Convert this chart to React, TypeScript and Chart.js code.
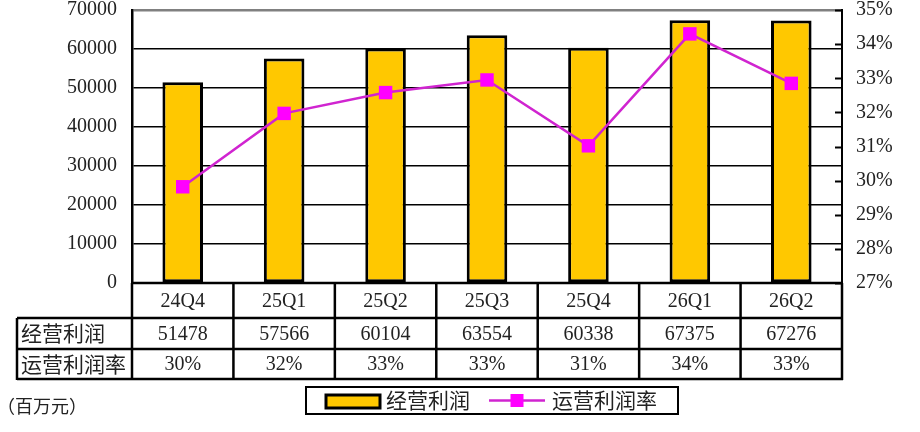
import React, { useEffect, useRef } from "react";
import { Chart, registerables } from "chart.js";

Chart.register(...registerables);

const categories = ["24Q4", "25Q1", "25Q2", "25Q3", "25Q4", "26Q1", "26Q2"];
const operatingProfit = [51478, 57566, 60104, 63554, 60338, 67375, 67276];
const operatingMargin = [29.82, 31.97, 32.58, 32.95, 31.02, 34.3, 32.85];
const profitLabel = "经营利润";
const marginLabel = "运营利润率";
const unitLabel = "（百万元）";

const BAR_COLOR = "#FFC800";
const LINE_COLOR = "#D024D0";
const MARKER_COLOR = "#FF00FF";
const TEXT_COLOR = "#222222";
const NUM_FONT = '"Liberation Serif", "Times New Roman", serif';
const CJK_FONT = '"Noto Sans CJK SC", sans-serif';

const tablePlugin = {
  id: "tablePlugin",
  afterDraw(chart: any) {
    const ctx = chart.ctx as CanvasRenderingContext2D;
    const area = chart.chartArea;
    const xs = chart.scales.x;
    const y1s = chart.scales.y1;
    const n = categories.length;
    const colW = (area.right - area.left) / n;
    const headerLeft = 17;
    const r0 = area.bottom;
    const r1 = r0 + 35;
    const r2 = r1 + 31;
    const r3 = r2 + 30;

    ctx.save();
    // inward ticks on right axis
    ctx.strokeStyle = "#000";
    ctx.lineWidth = 2;
    y1s.ticks.forEach((t: any) => {
      const py = Math.round(y1s.getPixelForValue(t.value)) + 0.5;
      ctx.beginPath();
      ctx.moveTo(area.right - 7, py);
      ctx.lineTo(area.right, py);
      ctx.stroke();
    });

    // table lines
    ctx.lineWidth = 2.5;
    ctx.strokeStyle = "#000";
    ctx.beginPath();
    ctx.moveTo(area.left - 1, r0);
    ctx.lineTo(area.right + 1, r0);
    [r1, r2, r3].forEach((yy) => {
      ctx.moveTo(headerLeft, yy);
      ctx.lineTo(area.right + 1, yy);
    });
    ctx.moveTo(headerLeft, r1);
    ctx.lineTo(headerLeft, r3 + 1);
    ctx.moveTo(area.left, r0);
    ctx.lineTo(area.left, r3 + 1);
    for (let i = 0; i < n; i++) {
      const xr = xs.getPixelForValue(i) + colW / 2;
      ctx.moveTo(xr, r0);
      ctx.lineTo(xr, r3 + 1);
    }
    ctx.stroke();

    // table text
    ctx.fillStyle = TEXT_COLOR;
    ctx.textBaseline = "middle";
    ctx.textAlign = "center";
    ctx.font = `20px ${NUM_FONT}`;
    for (let i = 0; i < n; i++) {
      const cx = xs.getPixelForValue(i);
      ctx.fillText(categories[i], cx, (r0 + r1) / 2 + 1);
      ctx.fillText(String(operatingProfit[i]), cx, (r1 + r2) / 2 + 1);
      ctx.fillText(Math.round(operatingMargin[i]) + "%", cx, (r2 + r3) / 2 + 1);
    }
    ctx.textAlign = "left";
    ctx.font = `21px ${CJK_FONT}`;
    ctx.fillText(profitLabel, 21, (r1 + r2) / 2);
    ctx.fillText(marginLabel, 21, (r2 + r3) / 2);

    // unit
    ctx.font = `18px ${CJK_FONT}`;
    ctx.fillText(unitLabel, -3, 406);

    // legend
    const lx = 306, ly = 387, lw = 372, lh = 27;
    ctx.lineWidth = 2;
    ctx.strokeStyle = "#000";
    ctx.strokeRect(lx, ly, lw, lh);
    ctx.fillStyle = BAR_COLOR;
    ctx.fillRect(326, 395, 54, 13);
    ctx.lineWidth = 3;
    ctx.strokeRect(326, 395, 54, 13);
    ctx.fillStyle = TEXT_COLOR;
    ctx.font = `21px ${CJK_FONT}`;
    ctx.fillText(profitLabel, 386, ly + lh / 2);
    ctx.strokeStyle = LINE_COLOR;
    ctx.lineWidth = 2.5;
    ctx.beginPath();
    ctx.moveTo(489, ly + lh / 2);
    ctx.lineTo(545, ly + lh / 2);
    ctx.stroke();
    ctx.fillStyle = MARKER_COLOR;
    ctx.fillRect(517 - 6.5, ly + lh / 2 - 6.5, 13, 13);
    ctx.fillStyle = TEXT_COLOR;
    ctx.fillText(marginLabel, 552, ly + lh / 2);
    ctx.restore();
  },
};

export default function App() {
  const ref = useRef<HTMLCanvasElement | null>(null);
  useEffect(() => {
    if (!ref.current) return;
    const chart = new Chart(ref.current, {
      type: "bar",
      data: {
        labels: categories,
        datasets: [
          {
            type: "line",
            label: marginLabel,
            data: operatingMargin,
            yAxisID: "y1",
            borderColor: LINE_COLOR,
            borderWidth: 2.5,
            pointStyle: "rect",
            pointRadius: 9.5,
            pointBackgroundColor: MARKER_COLOR,
            pointBorderColor: MARKER_COLOR,
            pointBorderWidth: 0,
            tension: 0,
            order: 0,
            clip: false,
          } as any,
          {
            type: "bar",
            label: profitLabel,
            data: operatingProfit,
            yAxisID: "y",
            backgroundColor: BAR_COLOR,
            borderColor: "#000",
            borderWidth: 3,
            borderSkipped: false,
            barPercentage: 0.4,
            categoryPercentage: 1,
            order: 1,
          },
        ],
      },
      options: {
        responsive: false,
        animation: false,
        devicePixelRatio: 1,
        layout: { padding: { top: 10, left: 0, right: 0, bottom: 0 } },
        plugins: { legend: { display: false }, tooltip: { enabled: false } },
        scales: {
          x: {
            type: "category",
            offset: true,
            grid: { display: false },
            border: { display: false },
            ticks: { display: false },
            afterFit: (s: any) => {
              s.height = 149;
              s.paddingLeft = 0;
              s.paddingRight = 0;
            },
          },
          y: {
            position: "left",
            min: 0,
            max: 70000,
            ticks: {
              stepSize: 10000,
              padding: 15,
              color: TEXT_COLOR,
              font: { family: NUM_FONT, size: 20 },
              callback: (v: any) => String(v),
            },
            grid: {
              drawTicks: false,
              color: (c: any) => (c.tick && c.tick.value === 70000 ? "#808080" : "#000"),
              lineWidth: (c: any) => (c.tick && c.tick.value === 70000 ? 2.5 : 1.6),
            },
            border: { color: "#000", width: 2.5 },
            afterFit: (s: any) => {
              s.width = 132;
              s.paddingTop = 0;
              s.paddingBottom = 0;
            },
          },
          y1: {
            position: "right",
            min: 27,
            max: 35,
            ticks: {
              stepSize: 1,
              padding: 14,
              color: TEXT_COLOR,
              font: { family: NUM_FONT, size: 20 },
              callback: (v: any) => v + "%",
            },
            grid: { drawOnChartArea: false, drawTicks: false },
            border: { color: "#000", width: 2 },
            afterFit: (s: any) => {
              s.width = 78;
              s.paddingTop = 0;
              s.paddingBottom = 0;
            },
          },
        },
      },
      plugins: [tablePlugin],
    });
    return () => chart.destroy();
  }, []);
  return (
    <div style={{ position: "absolute", left: 0, top: 0, width: 920, height: 432, background: "#fff" }}>
      <canvas ref={ref} width={920} height={432} style={{ width: 920, height: 432, display: "block" }} />
    </div>
  );
}
